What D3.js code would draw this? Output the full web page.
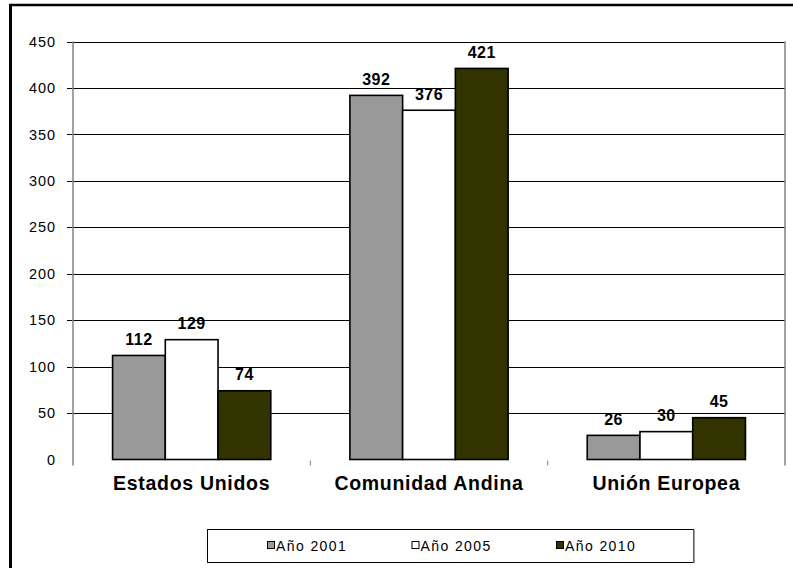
<!DOCTYPE html>
<html>
<head>
<meta charset="utf-8">
<script src="https://cdn.jsdelivr.net/npm/d3@7"></script>
<style>
  html, body { margin: 0; padding: 0; background: #fff; }
  svg { display: block; font-family: "Liberation Sans", Arial, sans-serif; }
</style>
</head>
<body>
<svg id="chart" width="793" height="568"></svg>
<script>
const categories = ["Estados Unidos", "Comunidad Andina", "Unión Europea"];
const years = ["Año 2001", "Año 2005", "Año 2010"];
const values2001 = [112, 392, 26];
const values2005 = [129, 376, 30];
const values2010 = [74, 421, 45];
const yTicks = [0, 50, 100, 150, 200, 250, 300, 350, 400, 450];
const colors = ["#999999", "#ffffff", "#333300"];

const seriesValues = [values2001, values2005, values2010];
const data = categories.map((c, i) => ({
  cat: c,
  vals: years.map((yr, j) => ({ year: yr, j, v: seriesValues[j][i] }))
}));

const svg = d3.select("#chart");
const plotLeft = 73, plotRight = 785, plotTop = 41.5, plotBottom = 459.5;

const x0 = d3.scaleBand().domain(categories).range([plotLeft, plotRight]).paddingInner(0).paddingOuter(0);
const x1 = d3.scaleBand().domain(years).range([0, x0.bandwidth()]).paddingInner(0).paddingOuter(0.75);
const y = d3.scaleLinear().domain([0, 450]).range([plotBottom, plotTop]);

// outer frame
svg.append("line").attr("x1", 10).attr("x2", 793).attr("y1", 5).attr("y2", 5)
  .attr("stroke", "#000").attr("stroke-width", 2.5);
svg.append("line").attr("x1", 10.5).attr("x2", 10.5).attr("y1", 4).attr("y2", 568)
  .attr("stroke", "#000").attr("stroke-width", 3);

// gridlines
const yAxis = d3.axisLeft(y).tickValues(yTicks).tickSize(0).tickPadding(17).tickFormat(d3.format("d"));
svg.append("g").selectAll("line").data(yTicks.filter(t => t > 0)).join("line")
  .attr("x1", plotLeft - 6).attr("x2", plotRight)
  .attr("y1", d => Math.round(y(d)) + 0.5).attr("y2", d => Math.round(y(d)) + 0.5)
  .attr("stroke", "#000").attr("stroke-width", 1);

const ya = svg.append("g").attr("transform", `translate(${plotLeft},0)`).call(yAxis);
ya.select(".domain").remove();
ya.selectAll("text").attr("font-size", 14.5).attr("letter-spacing", 0.9).attr("fill", "#000")
  .attr("font-family", "'Liberation Sans', Arial, sans-serif");

// plot area side lines
svg.append("line").attr("x1", plotLeft).attr("x2", plotLeft).attr("y1", plotTop).attr("y2", plotBottom + 6)
  .attr("stroke", "#808080").attr("stroke-width", 1.5);
svg.append("line").attr("x1", plotRight).attr("x2", plotRight).attr("y1", plotTop).attr("y2", plotBottom + 6)
  .attr("stroke", "#808080").attr("stroke-width", 1.5);

// category tick marks
svg.append("g").selectAll("line").data(categories.slice(1)).join("line")
  .attr("x1", d => x0(d)).attr("x2", d => x0(d))
  .attr("y1", plotBottom + 1).attr("y2", plotBottom + 6)
  .attr("stroke", "#808080").attr("stroke-width", 1);

// bars
const groups = svg.append("g").selectAll("g").data(data).join("g")
  .attr("transform", d => `translate(${x0(d.cat)},0)`);
groups.selectAll("rect").data(d => d.vals).join("rect")
  .attr("x", d => x1(d.year))
  .attr("y", d => y(d.v))
  .attr("width", x1.bandwidth())
  .attr("height", d => y(0) - y(d.v))
  .attr("fill", d => colors[d.j])
  .attr("stroke", "#000").attr("stroke-width", 1.6);

groups.selectAll("text").data(d => d.vals).join("text")
  .attr("x", d => x1(d.year) + x1.bandwidth() / 2)
  .attr("y", d => y(d.v) - 10.5)
  .attr("text-anchor", "middle")
  .attr("font-size", 16).attr("font-weight", "bold").attr("letter-spacing", 0.5)
  .text(d => d.v);

// category labels
svg.append("g").selectAll("text").data(categories).join("text")
  .attr("x", d => x0(d) + x0.bandwidth() / 2)
  .attr("y", 490)
  .attr("text-anchor", "middle")
  .attr("font-size", 19.5).attr("font-weight", "bold").attr("letter-spacing", 0.7)
  .text(d => d);

// legend
const lg = svg.append("g");
lg.append("rect").attr("x", 207.5).attr("y", 529.5).attr("width", 486).attr("height", 33)
  .attr("fill", "#fff").attr("stroke", "#000").attr("stroke-width", 1);
lg.append("line").attr("x1", 694).attr("x2", 694).attr("y1", 530).attr("y2", 563)
  .attr("stroke", "#808080").attr("stroke-width", 1.5);
const legX = d3.scalePoint().domain(years).range([267, 556]);
const items = lg.selectAll("g.item").data(years).join("g").attr("class", "item")
  .attr("transform", d => `translate(${legX(d)},0)`);
items.append("rect").attr("x", 0.5).attr("y", 541.5).attr("width", 7).attr("height", 7)
  .attr("fill", (d, i) => colors[i]).attr("stroke", "#000").attr("stroke-width", 1);
items.append("text").attr("x", 9).attr("y", 550.5)
  .attr("font-size", 14).attr("letter-spacing", 1.4)
  .text(d => d);
</script>
</body>
</html>
